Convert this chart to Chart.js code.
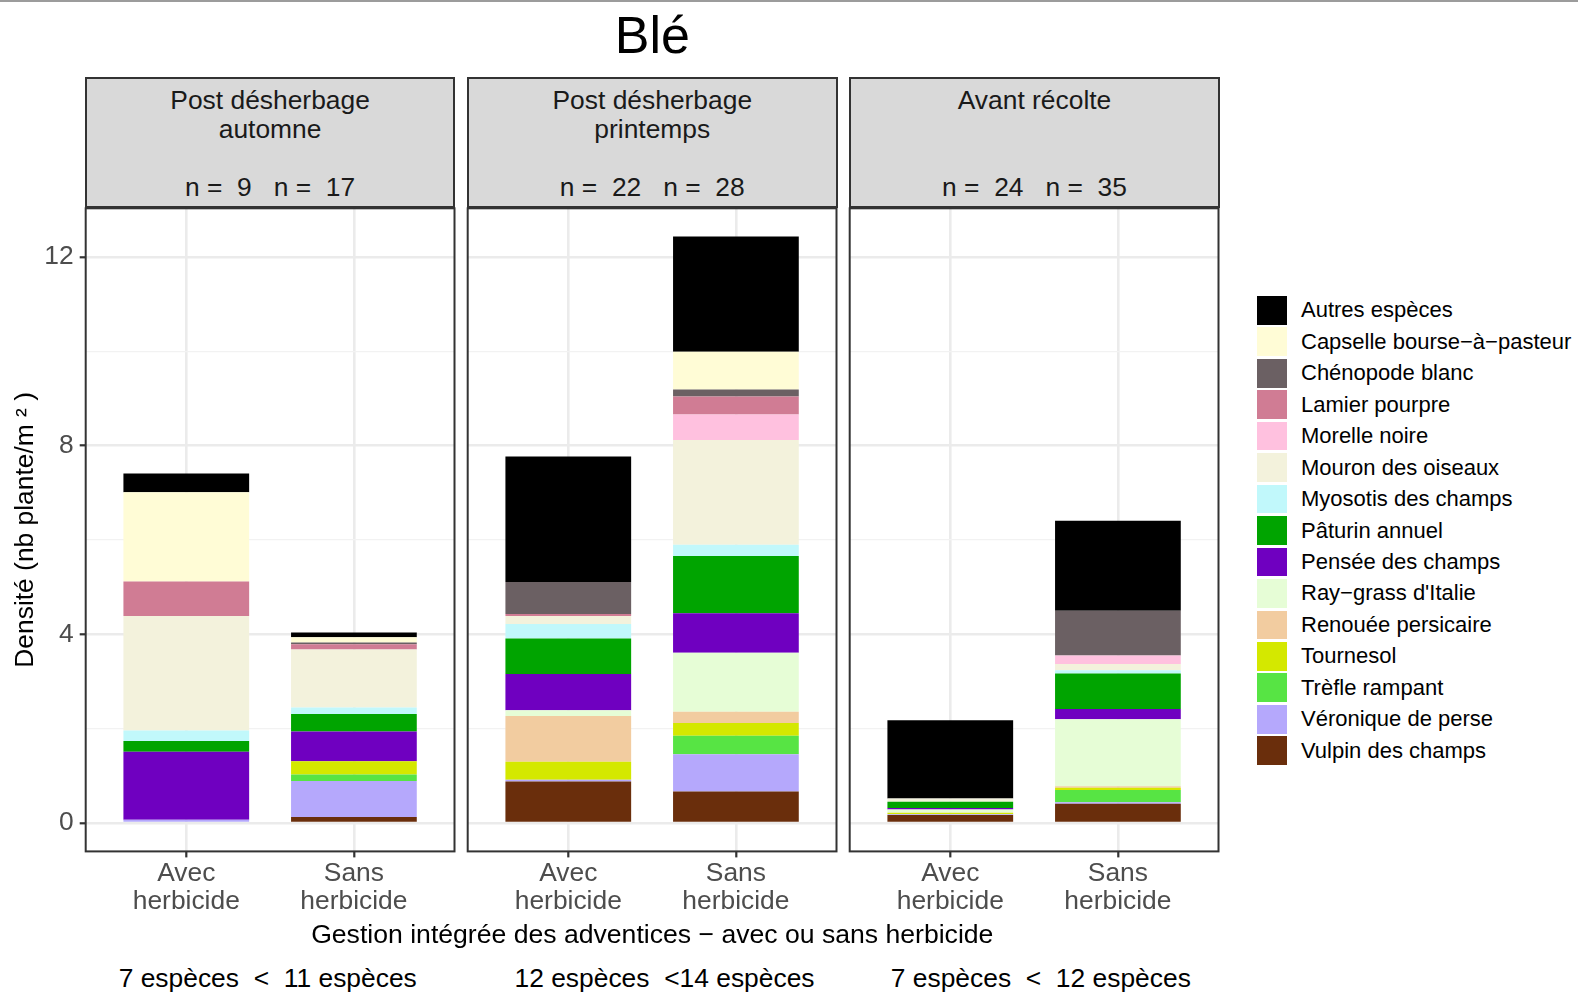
<!DOCTYPE html>
<html lang="fr">
<head>
<meta charset="utf-8">
<title>Blé</title>
<script src="https://cdn.jsdelivr.net/npm/chart.js@4.4.1/dist/chart.umd.min.js"></script>
<style>
  html, body { margin: 0; padding: 0; background: #ffffff; }
  body {
    width: 1578px; height: 992px; position: relative; overflow: hidden;
    font-family: "Liberation Sans", Arial, sans-serif;
  }
  .topline { position: absolute; left: 0; top: 0; width: 1578px; height: 2px; background: #9c9c9c; }
  .txt { position: absolute; white-space: pre; }
  canvas { position: absolute; }
  .strip {
    position: absolute; box-sizing: border-box;
    border: 2px solid #333333; background: #d9d9d9;
    display: flex; align-items: center; justify-content: center;
    padding-top: 3px;
    text-align: center; white-space: pre;
    font-size: 26.4px; line-height: 29px; color: #1a1a1a;
  }
  .key { position: absolute; width: 30px; height: 28.7px; }
  .keylab { position: absolute; font-size: 22px; line-height: 28px; color: #000; white-space: pre; }
</style>
</head>
<body>
<div class="topline"></div>
<div id="title" class="txt" style="left:0;width:1306px;top:9px;text-align:center;font-size:52px;line-height:52px;color:#000;">Blé</div>
<div id="figure"></div>
<script>
// Weed species, in legend order, and their fill colours
const species = [
  'Autres espèces', 'Capselle bourse−à−pasteur', 'Chénopode blanc', 'Lamier pourpre',
  'Morelle noire', 'Mouron des oiseaux', 'Myosotis des champs', 'Pâturin annuel',
  'Pensée des champs', 'Ray−grass d\'Italie', 'Renouée persicaire', 'Tournesol',
  'Trèfle rampant', 'Véronique de perse', 'Vulpin des champs'
];
const colours = [
  '#000000', '#fffcd6', '#6b6063', '#d07c94', '#ffc1df', '#f3f2dc', '#c1f8fb', '#00a400',
  '#6f00c0', '#e6fdd6', '#f2cca0', '#d4e800', '#57e444', '#b5a8fc', '#6a2e0c'
];

// Sampling periods (facets) and the two weed-management modalities
const periods = ['Post désherbage\nautomne', 'Post désherbage\nprintemps', 'Avant récolte'];
const treatments = [['Avec', 'herbicide'], ['Sans', 'herbicide']];
const sampleSizes = [[9, 17], [22, 28], [24, 35]];
const richness = ['7 espèces  <  11 espèces', '12 espèces  <14 espèces', '7 espèces  <  12 espèces'];

// Density (plants/m²), one value per bar:
// [automne avec, automne sans, printemps avec, printemps sans, récolte avec, récolte sans]
const autres    = [0.40, 0.10, 2.66, 2.44, 1.66, 1.91];
const capselle  = [1.89, 0.11, 0.00, 0.80, 0.00, 0.00];
const chenopode = [0.00, 0.04, 0.68, 0.15, 0.00, 0.95];
const lamier    = [0.73, 0.11, 0.04, 0.38, 0.00, 0.00];
const morelle   = [0.00, 0.00, 0.00, 0.54, 0.00, 0.18];
const mouron    = [2.43, 1.23, 0.17, 2.22, 0.07, 0.13];
const myosotis  = [0.22, 0.14, 0.31, 0.24, 0.00, 0.07];
const paturin   = [0.23, 0.37, 0.75, 1.21, 0.13, 0.75];
const pensee    = [1.44, 0.63, 0.77, 0.84, 0.03, 0.22];
const raygrass  = [0.00, 0.00, 0.12, 1.25, 0.07, 1.42];
const renouee   = [0.00, 0.00, 0.97, 0.24, 0.00, 0.03];
const tournesol = [0.00, 0.28, 0.38, 0.27, 0.03, 0.05];
const trefle    = [0.00, 0.14, 0.00, 0.39, 0.00, 0.26];
const veronique = [0.07, 0.76, 0.04, 0.79, 0.02, 0.03];
const vulpin    = [0.00, 0.13, 0.88, 0.67, 0.17, 0.41];
const densities = [autres, capselle, chenopode, lamier, morelle, mouron, myosotis, paturin,
                   pensee, raygrass, renouee, tournesol, trefle, veronique, vulpin];

const yTicks = [0, 2, 4, 6, 8, 10, 12];
const yTitle = 'Densité (nb plante/m ² )';
const xTitle = 'Gestion intégrée des adventices − avec ou sans herbicide';

const FONT = '"Liberation Sans", Arial, sans-serif';
const fig = document.getElementById('figure');

// Panel geometry (page pixels)
const PANEL_W = 368.8, PANEL_GAP = 13.4, PANEL_LEFT = 85.7;
const PANEL_TOP = 208.3, PANEL_BOTTOM = 851.4, STRIP_TOP = 76.7;
const CANVAS_TOP = 200, CANVAS_H = 760, EDGE = 5.7;
const NOTE_SHIFT = [33, 46.6, 40.7];

// Dark frame around each plotting area
const panelFrame = {
  id: 'panelFrame',
  afterDraw(chart) {
    const { ctx, chartArea: a } = chart;
    ctx.save();
    ctx.strokeStyle = '#333333';
    ctx.lineWidth = 2;
    ctx.strokeRect(a.left, a.top, a.right - a.left, a.bottom - a.top);
    ctx.restore();
  }
};

function noPadding(s) {
  s.paddingTop = 0; s.paddingBottom = 0; s.paddingLeft = 0; s.paddingRight = 0;
}

function addText(text, css) {
  const d = document.createElement('div');
  d.className = 'txt';
  d.textContent = text;
  Object.assign(d.style, css);
  fig.appendChild(d);
  return d;
}

periods.forEach((period, p) => {
  const first = p === 0;
  const panelLeft = PANEL_LEFT + p * (PANEL_W + PANEL_GAP);
  const yAxisW = first ? PANEL_LEFT : EDGE;
  const canvasLeft = panelLeft - yAxisW;

  // facet strip
  const strip = document.createElement('div');
  strip.className = 'strip';
  const nameLines = period.split('\n').length;
  strip.textContent = period + '\n'.repeat(4 - nameLines) +
    'n =  ' + sampleSizes[p][0] + '   n =  ' + sampleSizes[p][1];
  Object.assign(strip.style, {
    left: (panelLeft - 1) + 'px', top: STRIP_TOP + 'px',
    width: (PANEL_W + 2) + 'px', height: (PANEL_TOP - STRIP_TOP - 0.6) + 'px'
  });
  fig.appendChild(strip);

  // species-richness note under each facet
  addText(richness[p], {
    left: (panelLeft + NOTE_SHIFT[p]) + 'px', top: '963px',
    fontSize: '26.4px', lineHeight: '30px', color: '#000'
  });

  const canvas = document.createElement('canvas');
  canvas.width = Math.round(yAxisW + PANEL_W + EDGE);
  canvas.height = CANVAS_H;
  canvas.style.left = canvasLeft + 'px';
  canvas.style.top = CANVAS_TOP + 'px';
  fig.appendChild(canvas);

  // bottom-to-top stacking: last legend entry sits on the axis
  const datasets = species.map((name, i) => ({
    label: name,
    data: treatments.map((t, j) => ({ x: j + 1, y: densities[i][2 * p + j] })),
    backgroundColor: colours[i],
    borderWidth: 0
  })).reverse();

  new Chart(canvas, {
    type: 'bar',
    data: { datasets },
    plugins: [panelFrame],
    options: {
      responsive: false,
      animation: false,
      events: [],
      layout: { padding: { top: PANEL_TOP - CANVAS_TOP, right: canvas.width - yAxisW - PANEL_W, left: 0, bottom: 0 } },
      datasets: { bar: { categoryPercentage: 0.75, barPercentage: 1 } },
      plugins: { legend: { display: false }, tooltip: { enabled: false } },
      scales: {
        x: {
          type: 'linear', stacked: true, min: 0.4, max: 2.6, offset: false,
          afterBuildTicks: s => { s.ticks = treatments.map((t, j) => ({ value: j + 1 })); },
          afterFit: s => { s.height = CANVAS_H - (PANEL_BOTTOM - CANVAS_TOP); noPadding(s); },
          border: { display: false },
          grid: { offset: false, color: '#ebebeb', lineWidth: 2.6, tickColor: '#333333', tickLength: 6, tickWidth: 2.2 },
          ticks: {
            callback: v => treatments[Math.round(v) - 1],
            color: '#4d4d4d', autoSkip: false, maxRotation: 0, minRotation: 0, padding: 2,
            font: { family: FONT, size: 26.4, lineHeight: 28.2 / 26.4 }
          }
        },
        y: {
          type: 'linear', stacked: true, min: -0.6, max: 13.03,
          afterBuildTicks: s => { s.ticks = yTicks.map(v => ({ value: v })); },
          afterFit: s => { s.width = yAxisW; noPadding(s); },
          border: { display: false },
          grid: {
            color: c => (c.tick && c.tick.value % 4 === 0) ? '#ebebeb' : '#f2f2f2',
            lineWidth: c => (c.tick && c.tick.value % 4 === 0) ? 2.6 : 1.3,
            tickColor: c => (first && c.tick && c.tick.value % 4 === 0) ? '#333333' : 'rgba(0,0,0,0)',
            tickLength: 6, tickWidth: 2.2
          },
          ticks: {
            display: first,
            callback: v => (v % 4 === 0 ? String(v) : ''),
            color: '#4d4d4d', padding: 6,
            font: { family: FONT, size: 26.4 }
          },
          title: {
            display: first, text: yTitle, color: '#000000',
            font: { family: FONT, size: 26.4, lineHeight: 1.2 },
            padding: { top: 10.2, bottom: 0 }
          }
        }
      }
    }
  });
});

// shared x-axis title
const panelsRight = PANEL_LEFT + 3 * PANEL_W + 2 * PANEL_GAP;
addText(xTitle, {
  left: PANEL_LEFT + 'px', width: (panelsRight - PANEL_LEFT) + 'px', top: '919px',
  textAlign: 'center', fontSize: '26.6px', lineHeight: '30px', color: '#000'
});
document.getElementById('title').style.width = (PANEL_LEFT + panelsRight) + 'px';

// legend
species.forEach((name, i) => {
  const top = 296 + i * 31.45;
  const key = document.createElement('div');
  key.className = 'key';
  key.style.left = '1257.3px';
  key.style.top = top + 'px';
  key.style.background = colours[i];
  fig.appendChild(key);
  const lab = document.createElement('div');
  lab.className = 'keylab';
  lab.textContent = name;
  lab.style.left = '1301px';
  lab.style.top = (top + 0.35) + 'px';
  fig.appendChild(lab);
});
</script>
</body>
</html>
